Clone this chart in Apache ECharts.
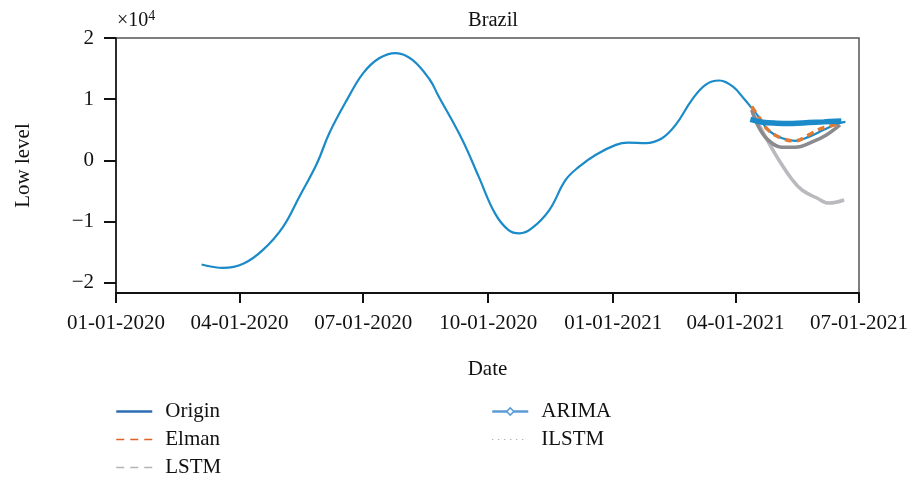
<!DOCTYPE html>
<html>
<head>
<meta charset="utf-8">
<script src="https://cdn.jsdelivr.net/npm/echarts@6/dist/echarts.min.js"></script>
<style>html,body{margin:0;padding:0;background:#fff}#c{width:911px;height:479px}</style>
</head>
<body>
<div id="c"></div>
<script>
// ---- data ----
const originDates = ['2020-03-04','2020-03-20','2020-04-04','2020-04-18','2020-05-03','2020-05-15','2020-05-28','2020-06-06','2020-06-19','2020-07-01','2020-07-13','2020-07-25','2020-08-06','2020-08-19','2020-08-25','2020-09-12','2020-09-24','2020-10-06','2020-10-16','2020-10-24','2020-11-02','2020-11-15','2020-11-27','2020-12-07','2020-12-19','2021-01-03','2021-01-12','2021-01-25','2021-02-06','2021-02-16','2021-02-28','2021-03-10','2021-03-20','2021-03-30','2021-04-08','2021-04-13','2021-04-18','2021-04-25','2021-05-05','2021-05-15','2021-05-25','2021-06-05','2021-06-15','2021-06-21'];
const originValues = [-16990,-17550,-16830,-14650,-10830,-5920,-460,4450,9900,14270,16730,17540,16450,13180,10700,3350,-2650,-8640,-11370,-11910,-11100,-8100,-3190,-1010,900,2540,2910,2820,3630,5810,9900,12360,13060,12080,9900,8540,7170,5000,3680,3200,3850,5000,6000,6300];

const elmanDates = ['2021-04-13','2021-04-18','2021-04-25','2021-05-05','2021-05-15','2021-05-25','2021-06-04','2021-06-18'];
const elmanValues = [8800,7170,5000,3630,3190,4170,5270,6000];

const lstmDates = ['2021-04-13','2021-04-18','2021-04-25','2021-05-05','2021-05-15','2021-05-28','2021-06-07','2021-06-17'];
const lstmValues = [8260,5530,3360,2160,2160,3080,4170,5810];

const arimaDates = ['2021-04-12','2021-04-21','2021-05-01','2021-05-13','2021-05-25','2021-06-05','2021-06-18'];
const arimaValues = [6700,6250,6090,6050,6190,6300,6460];

const ilstmDates = ['2021-04-14','2021-04-23','2021-05-03','2021-05-13','2021-05-20','2021-05-31','2021-06-09','2021-06-20'];
const ilstmValues = [7770,3900,80,-3190,-4830,-6140,-6960,-6460];

const xTickDates = ['2020-01-01','2020-04-01','2020-07-01','2020-10-01','2021-01-01','2021-04-01','2021-07-01'];
const yTickValues = [-20000,-10000,0,10000,20000];

// ---- helpers ----
const ts = s => new Date(s + 'T00:00:00').getTime();
const pair = (ds, vs) => ds.map((d, i) => [ts(d), vs[i]]);
const pad = n => (n < 10 ? '0' : '') + n;
const fmtDate = v => { const d = new Date(v); return pad(d.getMonth() + 1) + '-' + pad(d.getDate()) + '-' + d.getFullYear(); };

const FONT = 'Liberation Serif';
const FS = 21;
const chart = echarts.init(document.getElementById('c'), null, { renderer: 'canvas' });

const legendText = { fontFamily: FONT, fontSize: FS, color: '#111', padding: [0, 0, 0, 8] };
const hidden = { opacity: 0 };

chart.setOption({
  animation: false,
  backgroundColor: '#fff',
  title: {
    text: 'Brazil', left: 488, top: 5, textAlign: 'center',
    textStyle: { fontFamily: FONT, fontSize: 20.5, fontWeight: 'normal', color: '#111' }
  },
  graphic: [{
    type: 'text', left: 117, top: 9,
    style: {
      text: '×10{s|4}', fontFamily: FONT, fontSize: 20, fill: '#111',
      rich: { s: { fontFamily: FONT, fontSize: 14, verticalAlign: 'top', padding: [0, 0, 9, 0] } }
    }
  }],
  grid: { left: 116, right: 51, top: 38, bottom: 186, show: true, borderColor: '#555', borderWidth: 1.5 },
  legend: [{
    orient: 'vertical', left: 115, top: 401, height: 120, padding: 0, itemWidth: 36, itemHeight: 14, itemGap: 7,
    textStyle: legendText,
    data: [
      { name: 'Origin', lineStyle: { color: '#2e6db4', width: 2.5, type: 'solid' }, itemStyle: hidden },
      { name: 'Elman', lineStyle: { color: '#e0602a', width: 1.5, type: [8, 6] }, itemStyle: hidden },
      { name: 'LSTM', lineStyle: { color: '#b4b4b4', width: 1.5, type: [8, 6] }, itemStyle: hidden }
    ]
  }, {
    orient: 'vertical', left: 491, top: 401, height: 120, padding: 0, itemWidth: 36, itemHeight: 9, itemGap: 7,
    textStyle: legendText,
    data: [
      { name: 'ARIMA', lineStyle: { color: '#5b9bd5', width: 2.5, type: 'solid' }, itemStyle: { color: '#ffffff', borderColor: '#5b9bd5', borderWidth: 1.5, opacity: 1 } },
      { name: 'ILSTM', lineStyle: { color: '#999999', width: 1.2, type: [1, 5] }, itemStyle: hidden }
    ]
  }],
  xAxis: {
    type: 'value',
    min: ts(xTickDates[0]), max: ts(xTickDates[xTickDates.length - 1]),
    name: 'Date', nameLocation: 'middle', nameGap: 66,
    nameTextStyle: { fontFamily: FONT, fontSize: FS, color: '#111' },
    axisLine: { onZero: false, lineStyle: { color: '#111', width: 2 } },
    axisTick: { show: true, length: 10, lineStyle: { color: '#111', width: 2 }, customValues: xTickDates.map(ts) },
    axisLabel: { fontFamily: FONT, fontSize: FS, color: '#111', margin: 20, customValues: xTickDates.map(ts), formatter: v => fmtDate(v), hideOverlap: false, showMinLabel: true, showMaxLabel: true },
    splitLine: { show: false }
  },
  yAxis: {
    type: 'value', min: -21650, max: 20000,
    name: 'Low level', nameLocation: 'middle', nameGap: 82, nameRotate: 90,
    nameTextStyle: { fontFamily: FONT, fontSize: FS, color: '#111' },
    axisLine: { show: true, onZero: false, lineStyle: { color: '#111', width: 1.5 } },
    axisTick: { show: true, length: 12, lineStyle: { color: '#111', width: 2 }, customValues: yTickValues },
    axisLabel: { fontFamily: FONT, fontSize: FS, color: '#111', margin: 22, customValues: yTickValues,
      formatter: v => { const n = Math.round(v / 10000); return n < 0 ? '\u2212' + (-n) : String(n); } },
    splitLine: { show: false }
  },
  series: [
    { name: 'Origin', type: 'line', data: pair(originDates, originValues), smooth: 0.4, symbol: 'none', z: 2,
      lineStyle: { color: '#1a8ac8', width: 2.2 }, itemStyle: { color: '#1a8ac8' } },
    { name: 'ILSTM', type: 'line', data: pair(ilstmDates, ilstmValues), smooth: 0.4, symbol: 'none', z: 3,
      lineStyle: { color: '#b9b9be', width: 3.5 }, itemStyle: { color: '#b9b9be' } },
    { name: 'LSTM', type: 'line', data: pair(lstmDates, lstmValues), smooth: 0.4, symbol: 'none', z: 4,
      lineStyle: { color: '#8a8a8f', width: 3.5 }, itemStyle: { color: '#8a8a8f' } },
    { name: 'Elman', type: 'line', data: pair(elmanDates, elmanValues), smooth: 0.4, symbol: 'none', z: 5,
      lineStyle: { color: '#e07a35', width: 3.5, type: [7, 5] }, itemStyle: { color: '#e07a35' } },
    { name: 'ARIMA', type: 'line', data: pair(arimaDates, arimaValues), smooth: 0.4, symbol: 'diamond', symbolSize: 7, showSymbol: false, z: 6,
      lineStyle: { color: '#1a8ac8', width: 5.5 }, itemStyle: { color: '#1a8ac8' } }
  ]
});
</script>
</body>
</html>
